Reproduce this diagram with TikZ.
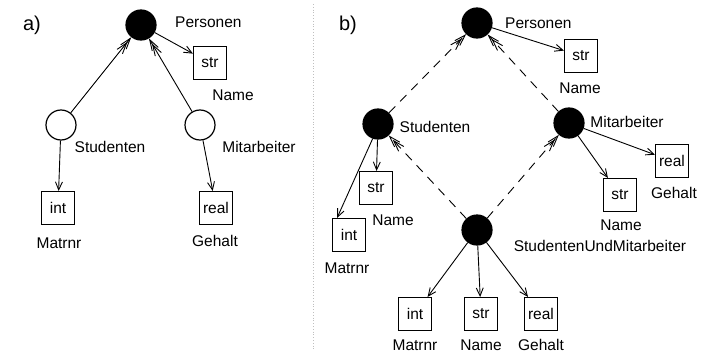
\documentclass[tikz,border=0pt]{standalone}
\usepackage{fontspec}
\setmainfont{Liberation Sans}
\usetikzlibrary{arrows.meta}
\begin{document}
\begin{tikzpicture}[x=1pt, y=-1pt,
  every node/.style={font=\fontsize{15.5}{18}\selectfont, inner sep=0pt},
  objnode/.style={circle, draw, line width=1.2pt, minimum size=30pt},
  entity/.style={objnode, fill=black},
  hollow/.style={objnode, fill=white},
  typebox/.style={draw, line width=1.1pt, minimum size=33pt},
  attr/.style={-{Straight Barb[length=8pt,width=7pt]}, line width=0.9pt},
  isa/.style={-{Straight Barb[length=11pt,width=7pt,sep=-7pt]Straight Barb[length=11pt,width=7pt]}, line width=0.9pt},
  isadash/.style={isa, dash pattern=on 9pt off 7pt},
  partlabel/.style={font=\fontsize{20}{24}\selectfont}
]
\useasboundingbox (0,0) rectangle (704,353);

% separator between the two parts
\draw[black!25, dotted, line width=0.8pt] (313,4) -- (313,350);

% ---------------- part a ----------------
\node[partlabel] (la) at (32,25) {a)};

\node[entity] (aP) at (141,25) {};
\node[anchor=west] (aPl) at (175,22) {Personen};
\node[typebox] (aPstr) at (210,63) {str};
\node (aPname) at (233,95) {Name};

\node[hollow] (aS) at (61,125) {};
\node (aSl) at (110,147) {Studenten};
\node[typebox] (aSint) at (58,208) {int};
\node (aSmat) at (59,243) {Matrnr};

\node[hollow] (aM) at (200,125) {};
\node (aMl) at (259,147) {Mitarbeiter};
\node[typebox] (aMreal) at (216,208) {real};
\node (aMgeh) at (215,241) {Gehalt};

\draw[attr] (aP) -- (aPstr);
\draw[isa] (aS) -- (aP);
\draw[isa] (aM) -- (aP);
\draw[attr] (aS) -- (aSint);
\draw[attr] (aM) -- (aMreal);

% ---------------- part b ----------------
\node[partlabel] (lb) at (348,25) {b)};

\node[entity] (bP) at (477,23) {};
\node[anchor=west] (bPl) at (505,23) {Personen};
\node[typebox] (bPstr) at (581,56) {str};
\node (bPname) at (580,88) {Name};

\node[entity] (bS) at (378,124) {};
\node (bSl) at (435,127) {Studenten};
\node[typebox] (bSstr) at (376,188) {str};
\node (bSname) at (393,220) {Name};
\node[typebox] (bSint) at (349,235) {int};
\node (bSmat) at (347,268) {Matrnr};

\node[entity] (bM) at (569,123) {};
\node (bMl) at (627,122) {Mitarbeiter};
\node[typebox] (bMreal) at (672,161) {real};
\node (bMgeh) at (674,193) {Gehalt};
\node[typebox] (bMstr) at (620,195) {str};
\node (bMname) at (621,225) {Name};

\node[entity] (bSM) at (477,230) {};
\node (bSMl) at (600,246) {StudentenUndMitarbeiter};
\node[typebox] (bSMint) at (415,314) {int};
\node (bSMmat) at (415,345) {Matrnr};
\node[typebox] (bSMstr) at (481,314) {str};
\node (bSMname) at (481,345) {Name};
\node[typebox] (bSMreal) at (541,314) {real};
\node (bSMgeh) at (541,345) {Gehalt};

\draw[attr] (bP) -- (bPstr);
\draw[isadash] (bS) -- (bP);
\draw[isadash] (bM) -- (bP);
\draw[isadash] (bSM) -- (bS);
\draw[isadash] (bSM) -- (bM);

\draw[attr] (bS) -- (bSstr);
\draw[attr] (bS.250) -- (bSint.125);
\draw[attr] (bM) -- (bMreal);
\draw[attr] (bM) -- (bMstr);

\draw[attr] (bSM) -- (bSMint);
\draw[attr] (bSM) -- (bSMstr);
\draw[attr] (bSM) -- (bSMreal);
\end{tikzpicture}
\end{document}
